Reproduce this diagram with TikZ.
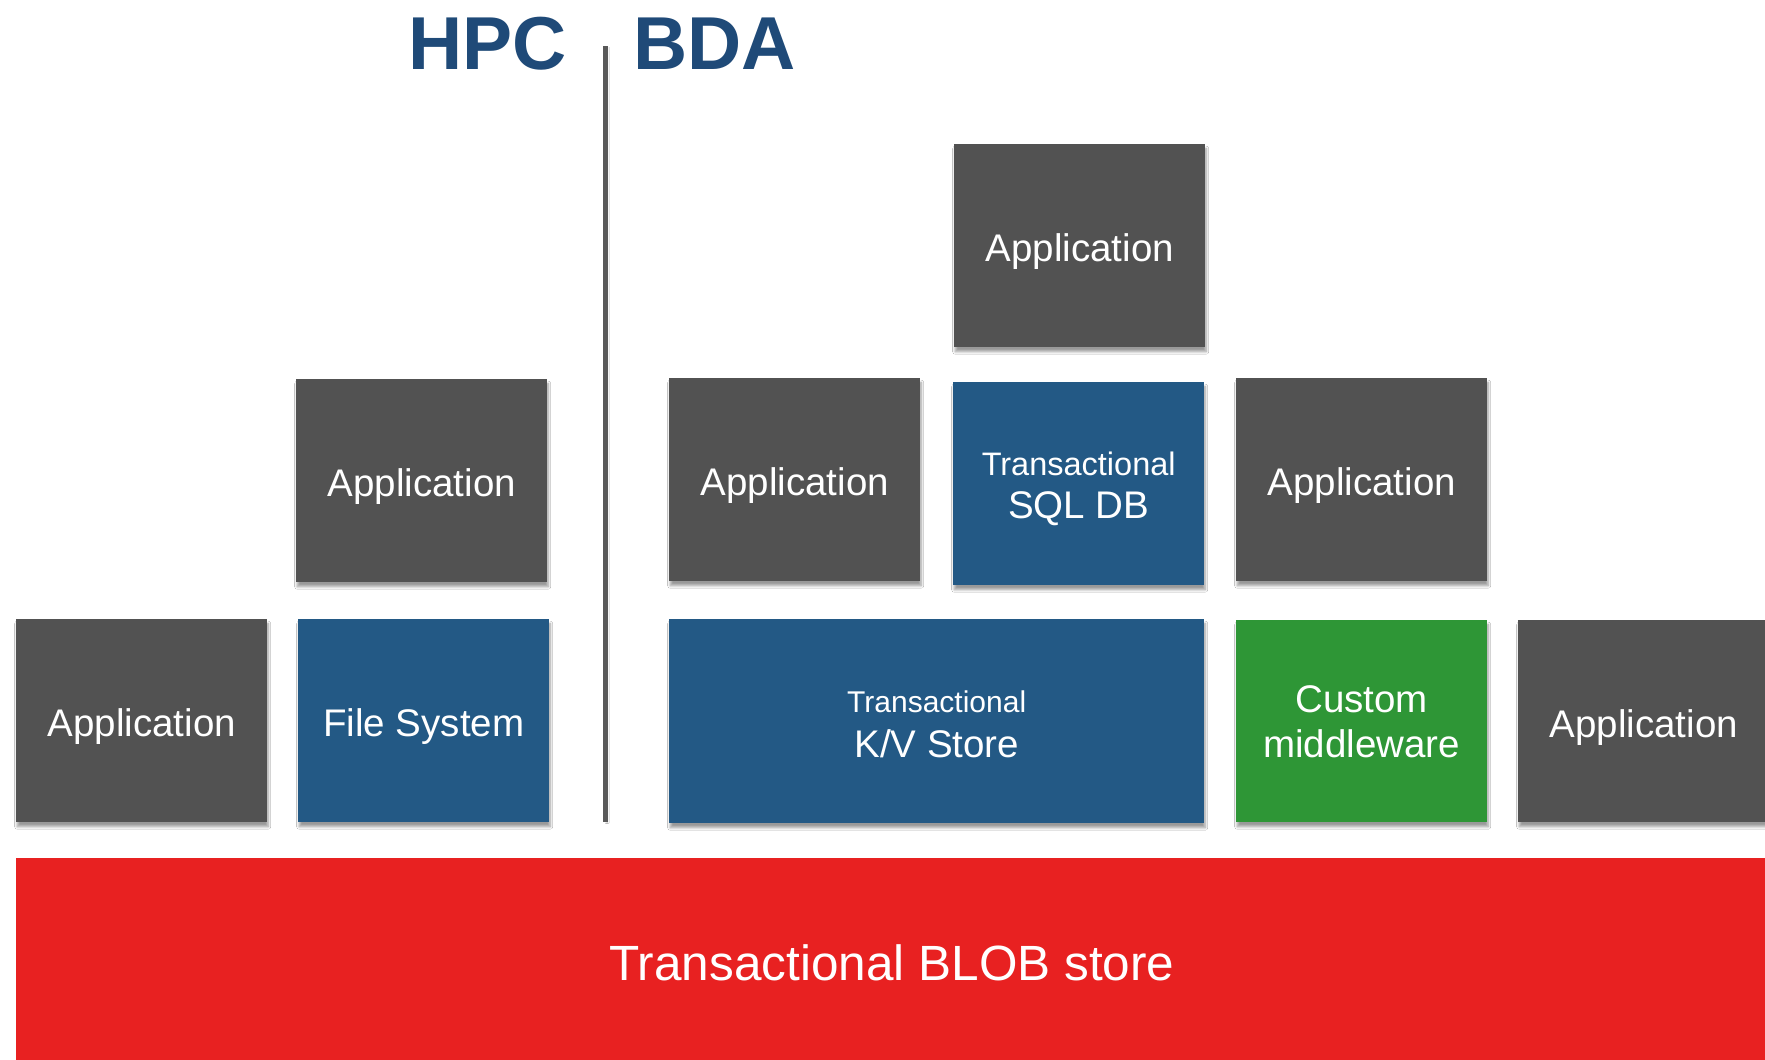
\documentclass[tikz,border=0pt]{standalone}
\usepackage{fontspec}
\setmainfont{Liberation Sans}
\usetikzlibrary{shadows.blur}
\definecolor{appgray}{HTML}{525252}
\definecolor{layerblue}{HTML}{235985}
\definecolor{midgreen}{HTML}{2E9636}
\definecolor{blobred}{HTML}{E82121}
\definecolor{titleblue}{HTML}{1F4A78}
\definecolor{rulegray}{HTML}{595959}
\tikzset{
  tile/.style={draw=none, inner sep=0pt, minimum width=251pt, minimum height=203pt,
    blur shadow={shadow xshift=1pt, shadow yshift=-4.5pt, shadow blur radius=2.5pt,
      shadow blur steps=8, shadow opacity=40}},
  apptile/.style={tile, fill=appgray},
  bluetile/.style={tile, fill=layerblue},
  greentile/.style={tile, fill=midgreen},
  lbl/.style={text=white, inner sep=0pt, anchor=base},
  big/.style={lbl, font=\fontsize{38.5}{40}\selectfont},
  small/.style={lbl, font=\fontsize{32.5}{34}\selectfont},
  title/.style={text=titleblue, inner sep=0pt, anchor=base west,
    font=\fontsize{75}{78}\selectfont\bfseries},
}
\begin{document}
\begin{tikzpicture}[x=1pt, y=-1pt]
\useasboundingbox (0,0) rectangle (1765,1060);
\fill[white] (0,0) rectangle (1765,1060);

% headings and the HPC / BDA divider
\node[title] (hpc) at (408,69.3) {HPC};
\node[title] (bda) at (633,69.3) {BDA};
\coordinate (divtop) at (605.5,46);
\coordinate (divbot) at (605.5,822);
\draw[rulegray, line width=5pt,
  blur shadow={shadow xshift=1.5pt, shadow yshift=-1pt, shadow blur radius=2pt,
    shadow blur steps=6, shadow opacity=30}]
  (divtop) -- (divbot);

% base layer
\begin{scope}
\clip (0,0) rectangle (1765,1060);
\node[fill=blobred, inner sep=0pt, minimum width=1760pt, minimum height=210pt, anchor=north west]
  (blob) at (16,858) {};
\end{scope}
\node[lbl, font=\fontsize{49.5}{52}\selectfont] (blobtxt) at ([yshift=-21pt]892,959) {Transactional BLOB store};

% HPC side
\node[apptile, anchor=north west] (hpcapp) at (296,379) {};
\node[big] (hpcapptxt) at ([yshift=-16pt]hpcapp.center) {Application};
\node[apptile, anchor=north west] (rawapp) at (16,619) {};
\node[big] (rawapptxt) at ([yshift=-16pt]rawapp.center) {Application};
\node[bluetile, anchor=north west] (fs) at (298,619) {};
\node[big] (fstxt) at ([yshift=-16pt]fs.center) {File System};

% BDA side
\node[apptile, anchor=north west] (sqlapp) at (954,144) {};
\node[big] (sqlapptxt) at ([yshift=-16pt]sqlapp.center) {Application};
\node[apptile, anchor=north west] (kvapp) at (669,378) {};
\node[big] (kvapptxt) at ([yshift=-16pt]kvapp.center) {Application};
\node[bluetile, anchor=north west] (sql) at (953,382) {};
\node[small] (sqltxta) at ([yshift=8pt]sql.center) {Transactional};
\node[big] (sqltxtb) at ([yshift=-35pt]sql.center) {SQL DB};
\node[apptile, anchor=north west] (mwapp) at (1236,378) {};
\node[big] (mwapptxt) at ([yshift=-16pt]mwapp.center) {Application};

\node[bluetile, anchor=north west, minimum width=535pt, minimum height=204pt] (kv) at (669,619) {};
\node[lbl, font=\fontsize{30}{32}\selectfont] (kvtxta) at ([yshift=8.3pt]kv.center) {Transactional};
\node[big] (kvtxtb) at ([yshift=-36.7pt]kv.center) {K/V Store};
\node[greentile, anchor=north west, minimum height=202pt] (mw) at (1236,620) {};
\node[big] (mwtxta) at ([yshift=8.3pt]mw.center) {Custom};
\node[big] (mwtxtb) at ([yshift=-36.7pt]mw.center) {middleware};
\begin{scope}
\clip (0,0) rectangle (1765,1060);
\node[apptile, anchor=north west, minimum height=202pt] (blobapp) at (1518,620) {};
\end{scope}
\node[big] (blobapptxt) at ([yshift=-16pt]blobapp.center) {Application};
\end{tikzpicture}
\end{document}
